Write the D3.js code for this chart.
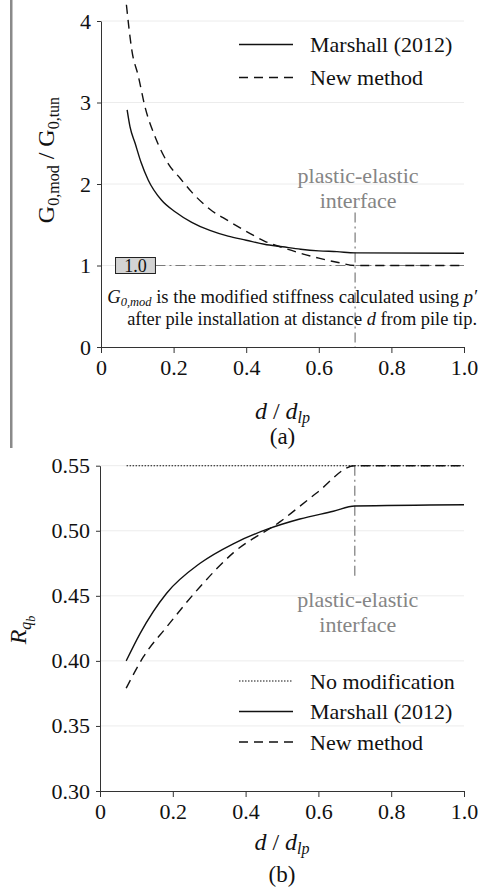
<!DOCTYPE html>
<html>
<head>
<meta charset="utf-8">
<script src="https://cdn.jsdelivr.net/npm/d3@7"></script>
<style>
body { margin: 0; background: #fff; }
text { font-family: "Liberation Serif", "Times New Roman", serif; }
</style>
</head>
<body>
<svg id="chart" width="478" height="890"></svg>
<script>
// panel (a): stiffness ratio
const dMarshallA = [0.072, 0.08, 0.094, 0.11, 0.13, 0.167, 0.204, 0.25, 0.3, 0.35, 0.4, 0.45, 0.5, 0.55, 0.6, 0.65, 0.7, 1.0]
const gMarshallA = [2.91, 2.70, 2.50, 2.27, 2.05, 1.80, 1.66, 1.53, 1.43, 1.36, 1.31, 1.26, 1.23, 1.20, 1.18, 1.17, 1.155, 1.15]
const dNewA = [0.07, 0.085, 0.103, 0.121, 0.149, 0.185, 0.218, 0.25, 0.3, 0.35, 0.4, 0.45, 0.5, 0.55, 0.6, 0.65, 0.7, 1.0]
const gNewA = [4.2, 3.64, 3.32, 2.95, 2.58, 2.25, 2.07, 1.90, 1.69, 1.55, 1.42, 1.30, 1.22, 1.15, 1.09, 1.04, 1.0, 1.0]
const yTicksA = [0, 1, 2, 3, 4]
const yLabelsA = ['0', '1', '2', '3', '4']

// panel (b): base resistance ratio
const dNoModB = [0.073, 1.0]
const rNoModB = [0.55, 0.55]
const dMarshallB = [0.072, 0.11, 0.183, 0.275, 0.366, 0.458, 0.549, 0.641, 0.70, 1.0]
const rMarshallB = [0.400, 0.421, 0.452, 0.475, 0.490, 0.501, 0.509, 0.515, 0.519, 0.52]
const dNewB = [0.072, 0.119, 0.183, 0.275, 0.366, 0.495, 0.595, 0.70, 1.0]
const rNewB = [0.379, 0.403, 0.426, 0.457, 0.483, 0.507, 0.529, 0.55, 0.55]
const yTicksB = [0.30, 0.35, 0.40, 0.45, 0.50, 0.55]
const yLabelsB = ['0.30', '0.35', '0.40', '0.45', '0.50', '0.55']

const xTicks = [0, 0.2, 0.4, 0.6, 0.8, 1.0]
const xLabels = ['0', '0.2', '0.4', '0.6', '0.8', '1.0']
const interfaceD = 0.7

const svg = d3.select('#chart')
const zip = (xs, ys) => xs.map((x, i) => [x, ys[i]])

const ink = '#111',
    dashed = '9,6',
    dotted = '1.5,1.5',
    dashDot = '10,4,2,4',
    refGray = '#7a7a7a',
    labelGray = '#858585'

// left marker bar next to panel (a)
svg.append('rect')
    .attr('x', 10).attr('y', 0)
    .attr('width', 2.5).attr('height', 448)
    .attr('fill', '#8a8a8a')

function drawPanel(p) {
    const x = d3.scaleLinear().domain([0, 1]).range(p.xRange)
    const y = d3.scaleLinear().domain(p.yDomain).range(p.yRange)
    const g = svg.append('g').attr('fill', ink)

    // faint grid
    g.selectAll('line.grid')
        .data(p.yTicks.slice(1))
        .enter().append('line')
        .attr('class', 'grid')
        .attr('x1', x(0)).attr('x2', x(1))
        .attr('y1', d => y(d)).attr('y2', d => y(d))
        .attr('stroke', '#ececec')

    // plastic-elastic interface
    g.append('line')
        .attr('x1', x(interfaceD)).attr('x2', x(interfaceD))
        .attr('y1', y(p.ifaceTop)).attr('y2', y(p.ifaceBottom))
        .attr('stroke', refGray).attr('stroke-width', 1.2)
        .attr('stroke-dasharray', dashDot)

    const line = d3.line()
        .x(d => x(d[0]))
        .y(d => y(d[1]))
        .curve(d3.curveMonotoneX)

    p.series.forEach(s => {
        g.append('path')
            .datum(zip(s.d, s.v))
            .attr('d', line)
            .attr('fill', 'none')
            .attr('stroke', ink)
            .attr('stroke-width', s.width || 1.4)
            .attr('stroke-dasharray', s.dash || null)
    })

    const xAxis = g.append('g')
        .attr('transform', `translate(0,${y(p.yDomain[0])})`)
        .call(d3.axisBottom(x).tickValues(xTicks).tickFormat((d, i) => xLabels[i])
            .tickSize(6).tickSizeOuter(0).tickPadding(6))
    const yAxis = g.append('g')
        .attr('transform', `translate(${x(0)},0)`)
        .call(d3.axisLeft(y).tickValues(p.yTicks).tickFormat((d, i) => p.yLabels[i])
            .tickSize(4).tickSizeOuter(0).tickPadding(6))

    ;[xAxis, yAxis].forEach(a => {
        a.selectAll('path, line').attr('stroke', '#333')
        a.selectAll('text')
            .style('font-size', '22px')
            .attr('fill', ink)
    })

    // x title
    const xt = g.append('text')
        .attr('x', (x(0) + x(1)) / 2).attr('y', p.xTitleY)
        .attr('text-anchor', 'middle')
        .style('font-size', '24px')
    xt.append('tspan').attr('font-style', 'italic').text('d')
    xt.append('tspan').text(' / ')
    xt.append('tspan').attr('font-style', 'italic').text('d')
    xt.append('tspan').attr('font-style', 'italic').attr('font-size', '16px').attr('dy', 4).text('lp')

    g.append('text')
        .attr('x', (x(0) + x(1)) / 2).attr('y', p.captionY)
        .attr('text-anchor', 'middle')
        .style('font-size', '23px')
        .text(p.caption)

    // interface label
    const iface = g.append('text')
        .attr('text-anchor', 'middle')
        .attr('fill', labelGray)
        .style('font-size', '22px')
    iface.append('tspan').attr('x', x(interfaceD) + 3).attr('y', p.ifaceLabelY).text('plastic-elastic')
    iface.append('tspan').attr('x', x(interfaceD) + 3).attr('y', p.ifaceLabelY + 25).text('interface')

    // legend
    p.series.filter(s => s.label).forEach((s, i) => {
        const ly = p.legendY + i * p.legendGap
        g.append('line')
            .attr('x1', 239).attr('x2', 293)
            .attr('y1', ly).attr('y2', ly)
            .attr('stroke', ink)
            .attr('stroke-width', s.width || 1.4)
            .attr('stroke-dasharray', s.dash || null)
        g.append('text')
            .attr('x', 310).attr('y', ly + 7.5)
            .style('font-size', '22px')
            .text(s.label)
    })

    return { x, y, g }
}

// ---- panel (a)
const a = drawPanel({
    xRange: [101, 464],
    yDomain: [0, 4],
    yRange: [347, 21],
    yTicks: yTicksA,
    yLabels: yLabelsA,
    ifaceTop: 1.65,
    ifaceBottom: 0,
    ifaceLabelY: 183,
    legendY: 44.5,
    legendGap: 33,
    xTitleY: 419,
    captionY: 444,
    caption: '(a)',
    series: [
        { d: dMarshallA, v: gMarshallA, label: 'Marshall (2012)' },
        { d: dNewA, v: gNewA, dash: dashed, label: 'New method' }
    ]
})

// reference level 1.0 with boxed label
a.g.insert('line', 'path')
    .attr('x1', a.x(0.15)).attr('x2', a.x(1))
    .attr('y1', a.y(1)).attr('y2', a.y(1))
    .attr('stroke', refGray).attr('stroke-width', 1.2)
    .attr('stroke-dasharray', dashDot)
a.g.append('rect')
    .attr('x', a.x(0.04)).attr('y', a.y(1) - 8)
    .attr('width', a.x(0.15) - a.x(0.04)).attr('height', 16)
    .attr('fill', '#d3d3d3').attr('stroke', '#222').attr('stroke-width', 1)
a.g.append('text')
    .attr('x', a.x(0.095)).attr('y', a.y(1) + 6.5)
    .attr('text-anchor', 'middle')
    .style('font-size', '18px')
    .text('1.0')

const note1 = a.g.append('text')
    .attr('x', 477).attr('y', 303)
    .attr('text-anchor', 'end')
    .style('font-size', '18.6px')
note1.append('tspan').attr('font-style', 'italic').text('G')
note1.append('tspan').attr('font-style', 'italic').attr('font-size', '12.5px').attr('dy', 3).text('0,mod')
note1.append('tspan').attr('dy', -3).text(' is the modified stiffness calculated using ')
note1.append('tspan').attr('font-style', 'italic').text('p′')

const note2 = a.g.append('text')
    .attr('x', 477).attr('y', 325)
    .attr('text-anchor', 'end')
    .style('font-size', '18.4px')
note2.append('tspan').text('after pile installation at distance ')
note2.append('tspan').attr('font-style', 'italic').text('d')
note2.append('tspan').text(' from pile tip.')

const ya = svg.append('text')
    .attr('transform', 'translate(54,160) rotate(-90)')
    .attr('text-anchor', 'middle')
    .attr('fill', ink)
    .style('font-size', '24px')
ya.append('tspan').text('G')
ya.append('tspan').attr('font-size', '16px').attr('dy', 5).text('0,mod')
ya.append('tspan').attr('dy', -5).text(' / G')
ya.append('tspan').attr('font-size', '16px').attr('dy', 5).text('0,tun')

// ---- panel (b)
drawPanel({
    xRange: [100, 464],
    yDomain: [0.30, 0.55],
    yRange: [791, 465.7],
    yTicks: yTicksB,
    yLabels: yLabelsB,
    ifaceTop: 0.55,
    ifaceBottom: 0.465,
    ifaceLabelY: 607,
    legendY: 681,
    legendGap: 30.5,
    xTitleY: 850,
    captionY: 882,
    caption: '(b)',
    series: [
        { d: dNoModB, v: rNoModB, dash: dotted, width: 1.1, label: 'No modification' },
        { d: dMarshallB, v: rMarshallB, label: 'Marshall (2012)' },
        { d: dNewB, v: rNewB, dash: dashed, label: 'New method' }
    ]
})

const yb = svg.append('text')
    .attr('transform', 'translate(26,630) rotate(-90)')
    .attr('text-anchor', 'middle')
    .attr('fill', ink)
    .style('font-size', '24px')
yb.append('tspan').attr('font-style', 'italic').text('R')
yb.append('tspan').attr('font-style', 'italic').attr('font-size', '16px').attr('dy', 5).text('q')
yb.append('tspan').attr('font-style', 'italic').attr('font-size', '12px').attr('dy', 4).text('b')
</script>
</body>
</html>
